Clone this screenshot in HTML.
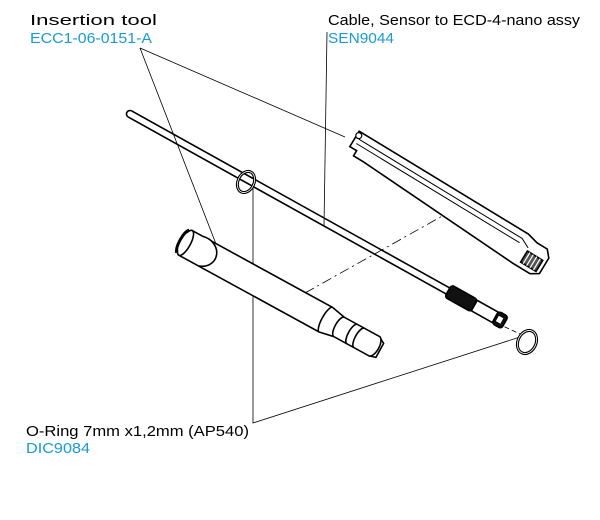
<!DOCTYPE html>
<html><head><meta charset="utf-8"><style>
html,body{margin:0;padding:0;background:#fff;width:600px;height:520px;overflow:hidden}
svg{display:block}
text{font-family:"Liberation Sans",sans-serif;font-size:15px}
.b{fill:#000}.c{fill:#1a9ad6}
</style></head><body>
<svg width="600" height="520" viewBox="0 0 600 520" xmlns="http://www.w3.org/2000/svg">
<text x="30" y="25" class="b" textLength="127" lengthAdjust="spacingAndGlyphs">Insertion tool</text>
<text x="30" y="43" class="c" textLength="122" lengthAdjust="spacingAndGlyphs">ECC1-06-0151-A</text>
<text x="328" y="25" class="b" textLength="252" lengthAdjust="spacingAndGlyphs">Cable, Sensor to ECD-4-nano assy</text>
<text x="328" y="43" class="c" textLength="66" lengthAdjust="spacingAndGlyphs">SEN9044</text>
<text x="26" y="436" class="b" textLength="223" lengthAdjust="spacingAndGlyphs">O-Ring 7mm x1,2mm (AP540)</text>
<text x="26" y="453" class="c" textLength="64" lengthAdjust="spacingAndGlyphs">DIC9084</text>

<g stroke="#000" stroke-width="0.8" fill="none">
<line x1="140" y1="48" x2="345" y2="137"/>
<line x1="140" y1="48" x2="223" y2="262"/>
<line x1="327" y1="32" x2="324" y2="226"/>
<polyline points="253,183 253,423 520,337"/>
<line x1="305" y1="293" x2="462" y2="205" stroke-dasharray="10,4,2,4"/>
<line x1="490" y1="320" x2="520" y2="334" stroke-dasharray="5,3"/>
</g>

<!-- cable -->
<g transform="translate(130,114) rotate(29.1)" stroke="#000" fill="#fff" stroke-width="1.6">
<path d="M0,-3.5 L366,-3.5 M0,3.5 L366,3.5"/>
<path d="M0,-3.5 A3.5,3.5 0 0 0 0,3.5"/>
<rect x="364" y="-7" width="30" height="14" rx="3" fill="#111"/>
<rect x="394" y="-6" width="24" height="12" fill="#fff"/>
<rect x="418" y="-7" width="11" height="14" rx="3" fill="#111"/>
<rect x="420" y="-3.5" width="6" height="7" fill="#fff" stroke-width="0.8"/>
</g>

<!-- right housing -->
<g transform="translate(355,138) rotate(31.3)" stroke="#000" fill="#fff" stroke-width="1.6">
<path d="M0,-8 L198,-8 L210,-5 L222,-5 L228,2 L228,20 L220,25 L200,25 L20,16 L8,16 L8,10 L0,10 Z"/>
<path d="M4,-1 L195,-1 M4,4 L195,4 M195,-1 L205,4" stroke-width="1"/>
<ellipse cx="2" cy="-4" rx="3" ry="3" stroke-width="1.2"/>
<path d="M206,7 L224,7 L224,20 L206,20 Z" fill="#555"/>
<path d="M209,7 v13 M213,7 v13 M217,7 v13 M221,7 v13" stroke="#fff" stroke-width="1.2"/>
</g>

<!-- left tube -->
<g transform="translate(186,242) rotate(28.7)" stroke="#000" fill="#fff" stroke-width="1.6">
<path d="M0,-13 L160,-13 L175,-10 L215,-10 L222,-6 L222,10 L215,12 L175,12 L160,15 L0,15 Z"/>
<ellipse cx="0" cy="1" rx="5" ry="14"/>
<path d="M-3,-12 A5,14 0 0 0 -3,14" stroke-width="3"/>
<path d="M12,-13 A16,14 0 0 1 22,15" />
<path d="M160,-13 A4,14 0 0 0 160,15 M175,-10 A4,11 0 0 0 175,12 M190,-10 A4,11 0 0 0 190,12 M198,-10 A4,11 0 0 0 198,12"/>
<path d="M215,-10 A5,11 0 0 1 215,12"/>
</g>

<!-- o-rings -->
<g stroke="#000" fill="none">
<ellipse cx="246" cy="182" rx="8" ry="11" transform="rotate(25 246 182)" stroke-width="3"/>
<ellipse cx="246" cy="182" rx="8" ry="11" transform="rotate(25 246 182)" stroke="#fff" stroke-width="0.8"/>
<ellipse cx="527" cy="342" rx="9" ry="12" transform="rotate(25 527 342)" stroke-width="3"/>
<ellipse cx="527" cy="342" rx="9" ry="12" transform="rotate(25 527 342)" stroke="#fff" stroke-width="0.8"/>
</g>
</svg>
</body></html>
